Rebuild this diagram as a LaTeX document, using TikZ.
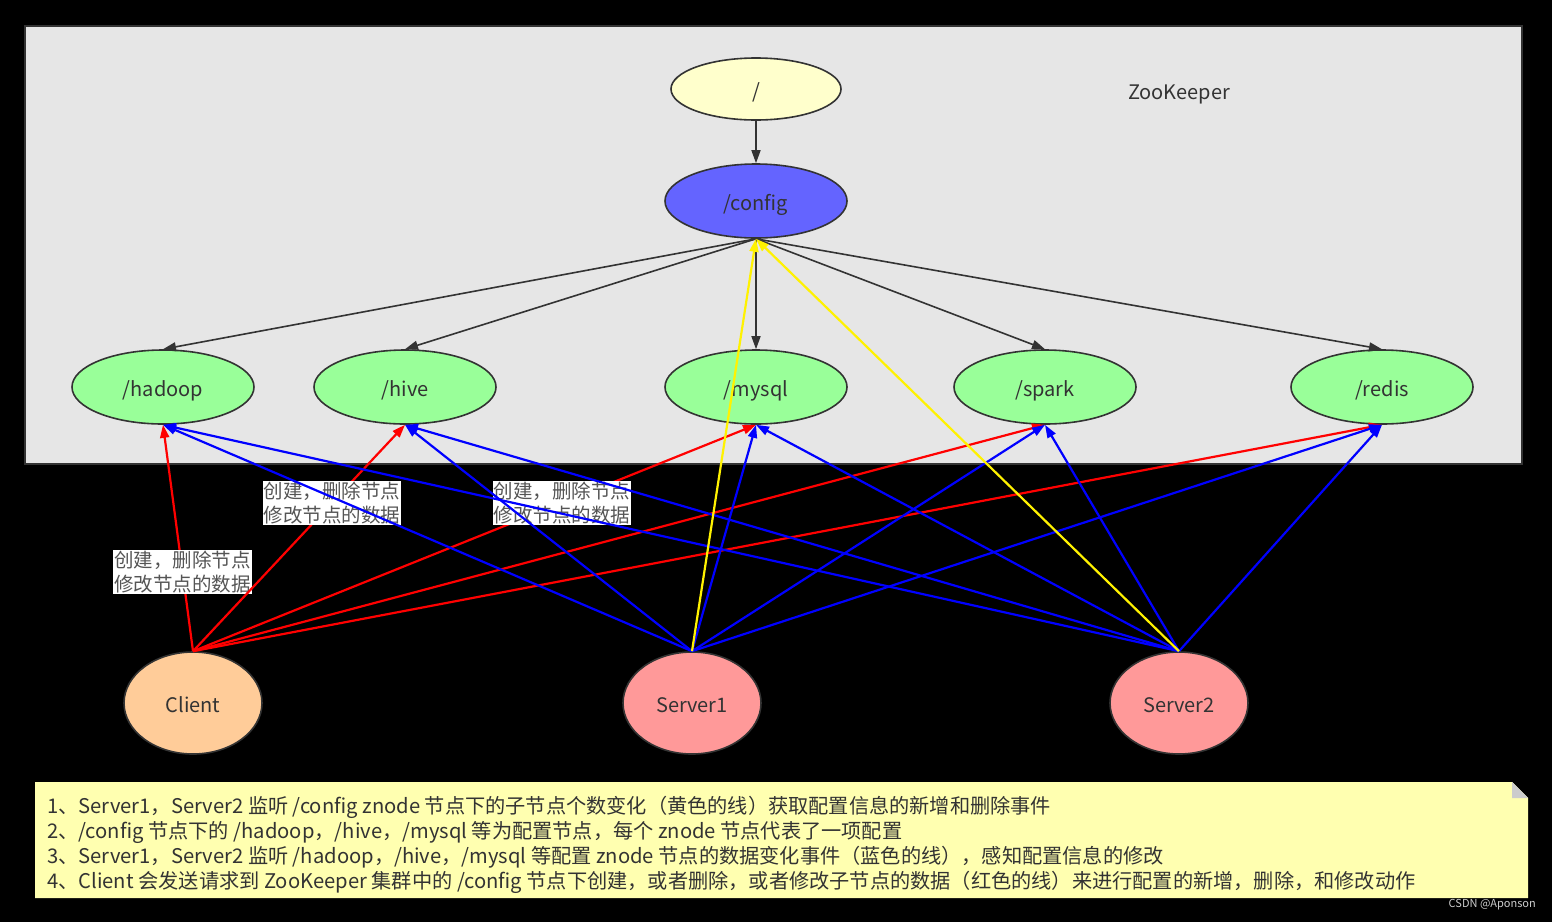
\documentclass[tikz,border=0pt]{standalone}
\usepackage{fontspec}
\setmainfont{Noto Sans CJK SC}
\usetikzlibrary{shapes.geometric,arrows.meta}
\definecolor{panelgray}{HTML}{E6E6E6}
\definecolor{linegray}{HTML}{333333}
\definecolor{rootfill}{HTML}{FFFFCC}
\definecolor{cfgfill}{HTML}{6464FF}
\definecolor{childfill}{HTML}{99FF99}
\definecolor{clientfill}{HTML}{FFCC99}
\definecolor{serverfill}{HTML}{FF9999}
\definecolor{notefill}{HTML}{FFFFB0}
\definecolor{labeltext}{HTML}{555555}
\definecolor{cornergray}{HTML}{CCCCCC}
\begin{document}
\begin{tikzpicture}[x=1pt,y=-1pt,
  every node/.style={font=\fontsize{20}{24}\selectfont, text=linegray},
  zk/.style={ellipse, draw=linegray, line width=1.6pt, inner sep=0pt,
    minimum width=182pt, minimum height=74pt, text height=18pt, text depth=0pt},
  machine/.style={ellipse, draw=linegray, line width=1.6pt, inner sep=0pt,
    minimum width=138pt, minimum height=102pt, text height=18pt, text depth=0pt},
  treeedge/.style={draw=linegray, line width=1.6pt, -{Triangle[length=13pt,width=9pt]}},
  rededge/.style={draw=red, line width=2.2pt, -{Triangle[length=13pt,width=9pt]}},
  blueedge/.style={draw=blue, line width=2.2pt, -{Triangle[length=13pt,width=9pt]}},
  yellowedge/.style={draw=yellow, line width=2.2pt, -{Triangle[length=13pt,width=9pt]}},
  oplabel/.style={fill=white, inner sep=1pt, align=left, text=labeltext,
    font=\fontsize{19.5}{24}\selectfont},
  noteline/.style={anchor=west, inner sep=0pt, text=linegray,
    font=\fontsize{20.2}{24}\selectfont}
]
\useasboundingbox (0,0) rectangle (1552,922);
\fill[black] (0,0) rectangle (1552,922);
% ZooKeeper panel
\draw[fill=panelgray, draw=linegray, line width=1.5pt] (25,26) rectangle (1522,464);
\node (zklabel) at (1179,94) {ZooKeeper};
% tree nodes
\node[zk, fill=rootfill, minimum width=170pt, minimum height=62pt] (root) at (756,89) {/};
\node[zk, fill=cfgfill] (config) at (756,201) {/config};
\node[zk, fill=childfill] (hadoop) at (163,387) {/hadoop};
\node[zk, fill=childfill] (hive) at (405,387) {/hive};
\node[zk, fill=childfill] (mysql) at (756,387) {/mysql};
\node[zk, fill=childfill] (spark) at (1045,387) {/spark};
\node[zk, fill=childfill] (redis) at (1382,387) {/redis};
% machines
\node[machine, fill=clientfill] (client) at (193,703) {Client};
\node[machine, fill=serverfill] (server1) at (692,703) {Server1};
\node[machine, fill=serverfill] (server2) at (1179,703) {Server2};
% tree edges
\draw[treeedge] (root.south) -- (config.north);
\foreach \c in {hadoop,hive,mysql,spark,redis}
  \draw[treeedge] (config.south) -- (\c.north);
% red edges
\draw[rededge] (client.north) -- node[oplabel, pos=0.35] (lab1) {创建，删除节点\\修改节点的数据} (hadoop.south);
\draw[rededge] (client.north) -- node[oplabel, pos=0.655] (lab2) {创建，删除节点\\修改节点的数据} (hive.south);
\draw[rededge] (client.north) -- node[oplabel, pos=0.655] (lab3) {创建，删除节点\\修改节点的数据} (mysql.south);
\draw[rededge] (client.north) -- (spark.south);
\draw[rededge] (client.north) -- (redis.south);
% blue edges
\foreach \s in {server1,server2}
  \foreach \c in {hadoop,hive,mysql,spark,redis}
    \draw[blueedge] (\s.north) -- (\c.south);
% yellow edges
\draw[yellowedge] (server1.north) -- (config.south);
\draw[yellowedge] (server2.north) -- (config.south);
% note
\fill[notefill] (35,782) -- (1512,782) -- (1528,798) -- (1528,898) -- (35,898) -- cycle;
\fill[cornergray] (1512,782) -- (1528,798) -- (1512,798) -- cycle;
\node[noteline] (n1) at (47,807) {1、Server1，Server2 监听 /config znode 节点下的子节点个数变化（黄色的线）获取配置信息的新增和删除事件};
\node[noteline] (n2) at (47,832) {2、/config 节点下的 /hadoop，/hive，/mysql 等为配置节点，每个 znode 节点代表了一项配置};
\node[noteline] (n3) at (47,857) {3、Server1，Server2 监听 /hadoop，/hive，/mysql 等配置 znode 节点的数据变化事件（蓝色的线），感知配置信息的修改};
\node[noteline] (n4) at (47,882) {4、Client 会发送请求到 ZooKeeper 集群中的 /config 节点下创建，或者删除，或者修改子节点的数据（红色的线）来进行配置的新增，删除，和修改动作};
\node[anchor=east, inner sep=0pt, text=cornergray, font=\fontsize{11}{13}\selectfont] (wm) at (1536,905) {CSDN @Aponson};
\end{tikzpicture}
\end{document}
